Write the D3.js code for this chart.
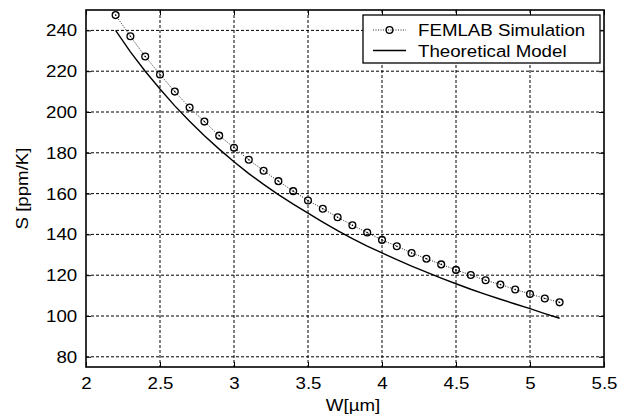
<!DOCTYPE html>
<html>
<head>
<meta charset="utf-8">
<script src="https://cdn.jsdelivr.net/npm/d3@7"></script>
<style>
  body { margin: 0; background: #fff; }
  text { font-family: "Liberation Sans", Arial, sans-serif; fill: #000; }
</style>
</head>
<body>
<div id="chart"></div>
<script>
var size = { width: 628, height: 418 };
var margin = { top: 10, right: 24, bottom: 51, left: 86 };
var stretch = "scale(1.1,1)";

// W [um] sample points
var widths = [2.2, 2.3, 2.4, 2.5, 2.6, 2.7, 2.8, 2.9, 3.0, 3.1, 3.2, 3.3, 3.4, 3.5, 3.6,
    3.7, 3.8, 3.9, 4.0, 4.1, 4.2, 4.3, 4.4, 4.5, 4.6, 4.7, 4.8, 4.9, 5.0, 5.1, 5.2];
// FEMLAB simulation values
var femlab = [247.5, 237.1, 227.2, 218.4, 210.0, 202.2, 195.3, 188.4, 182.5, 176.6, 171.2,
    166.1, 161.2, 156.6, 152.6, 148.4, 144.5, 140.9, 137.3, 134.2, 130.9, 128.1, 125.3,
    122.6, 120.1, 117.5, 115.4, 113.0, 110.8, 108.6, 106.7];
// Theoretical model values
var theory = [240.0, 229.5, 220.0, 211.3, 203.0, 195.5, 188.4, 181.8, 175.6, 169.8, 164.5,
    159.5, 154.8, 150.4, 146.0, 141.8, 137.9, 134.3, 130.9, 127.6, 124.5, 121.5, 118.6,
    115.8, 113.1, 110.6, 108.2, 105.9, 103.6, 101.2, 98.9];

var xTicks = [2, 2.5, 3, 3.5, 4, 4.5, 5, 5.5];
var yTicks = [80, 100, 120, 140, 160, 180, 200, 220, 240];
var legendLabels = ["FEMLAB Simulation", "Theoretical Model"];

var w = size.width - margin.left - margin.right;
var h = size.height - margin.top - margin.bottom;

var svg = d3.select("#chart").append("svg")
    .attr("width", size.width)
    .attr("height", size.height);

var g = svg.append("g")
    .attr("transform", "translate(" + margin.left + "," + margin.top + ")");

var x = d3.scaleLinear().domain([2, 5.5]).range([0, w]);
var y = d3.scaleLinear().domain([75, 250]).range([h, 0]);

// Grid
g.append("g").selectAll("line")
    .data(xTicks.slice(1, -1))
    .enter().append("line")
    .attr("x1", d => x(d)).attr("x2", d => x(d))
    .attr("y1", 0).attr("y2", h)
    .attr("stroke", "#000").attr("stroke-width", 1)
    .attr("stroke-dasharray", "3,2");

g.append("g").selectAll("line")
    .data(yTicks)
    .enter().append("line")
    .attr("x1", 0).attr("x2", w)
    .attr("y1", d => y(d)).attr("y2", d => y(d))
    .attr("stroke", "#000").attr("stroke-width", 1)
    .attr("stroke-dasharray", "3,2");

// Axes (inward ticks on all four sides)
var tick = 5;
g.append("g").attr("transform", "translate(0," + h + ")")
    .call(d3.axisBottom(x).tickValues(xTicks).tickSize(-tick).tickPadding(10).tickFormat(d3.format("")));
g.append("g")
    .call(d3.axisTop(x).tickValues(xTicks).tickSize(-tick).tickFormat(""));
g.append("g")
    .call(d3.axisLeft(y).tickValues(yTicks).tickSize(-tick).tickPadding(8));
g.append("g").attr("transform", "translate(" + w + ",0)")
    .call(d3.axisRight(y).tickValues(yTicks).tickSize(-tick).tickFormat(""));

g.selectAll(".domain").remove();
g.selectAll(".tick line").attr("stroke", "#000").attr("stroke-width", 1);
g.selectAll(".tick text")
    .style("font-size", "17px")
    .style("font-family", "'Liberation Sans', Arial, sans-serif")
    .attr("fill", "#000")
    .attr("transform", stretch);

// Frame
g.append("rect")
    .attr("width", w).attr("height", h)
    .attr("fill", "none").attr("stroke", "#000").attr("stroke-width", 1.6);

// Theoretical model
var line = d3.line().x((d, i) => x(widths[i])).y(d => y(d));

g.append("path")
    .datum(theory)
    .attr("d", line)
    .attr("fill", "none")
    .attr("stroke", "#000")
    .attr("stroke-width", 1.4);

// FEMLAB simulation
g.append("path")
    .datum(femlab)
    .attr("d", line)
    .attr("fill", "none")
    .attr("stroke", "#222")
    .attr("stroke-width", 1)
    .attr("stroke-dasharray", "1,1.5");

var pts = g.append("g").selectAll("g")
    .data(femlab)
    .enter().append("g")
    .attr("transform", (d, i) => "translate(" + x(widths[i]) + "," + y(d) + ")");
pts.append("circle").attr("r", 3.4)
    .attr("fill", "none").attr("stroke", "#000").attr("stroke-width", 1.3);
pts.append("circle").attr("r", 0.8).attr("fill", "#000");

// Legend
var lg = svg.append("g").attr("transform", "translate(363,15)");
lg.append("rect")
    .attr("width", 237).attr("height", 48)
    .attr("fill", "#fff").attr("stroke", "#000").attr("stroke-width", 1.3);

var rows = lg.selectAll(".row")
    .data(legendLabels)
    .enter().append("g")
    .attr("class", "row")
    .attr("transform", (d, i) => "translate(0," + (15 + i * 20.5) + ")");

rows.append("line")
    .attr("x1", 10).attr("x2", 43)
    .attr("stroke", (d, i) => i === 0 ? "#222" : "#000")
    .attr("stroke-width", (d, i) => i === 0 ? 1 : 1.4)
    .attr("stroke-dasharray", (d, i) => i === 0 ? "1,1.5" : null);

rows.filter((d, i) => i === 0).append("circle")
    .attr("cx", 26.5).attr("r", 3.4)
    .attr("fill", "none").attr("stroke", "#000").attr("stroke-width", 1.3);

rows.append("text")
    .attr("transform", "translate(55,6) " + stretch)
    .style("font-size", "17px")
    .text(d => d);

// Axis labels
svg.append("text")
    .attr("transform", "translate(353,411) " + stretch)
    .attr("text-anchor", "middle")
    .style("font-size", "17px")
    .text("W[\u00b5m]");

svg.append("text")
    .attr("transform", "translate(28," + (margin.top + h / 2) + ") rotate(-90) " + stretch)
    .attr("text-anchor", "middle")
    .style("font-size", "17px")
    .text("S [ppm/K]");
</script>
</body>
</html>
